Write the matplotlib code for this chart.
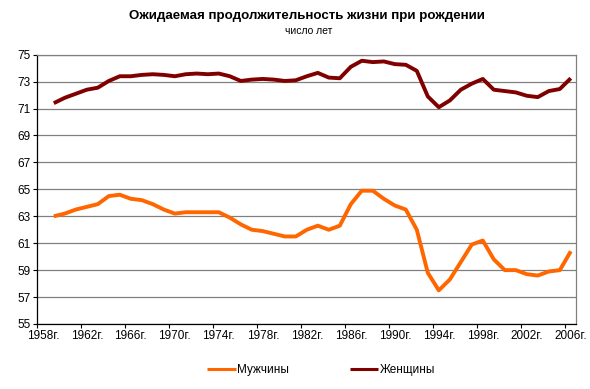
import numpy as np
import matplotlib
matplotlib.use("Agg")
import matplotlib.pyplot as plt

plt.rcParams['font.family'] = ['Liberation Sans', 'DejaVu Sans']

# годы и ожидаемая продолжительность жизни (чтение с графика)
years = list(range(1959, 2007))
muzhchiny = [63.0, 63.2, 63.5, 63.7, 63.9, 64.5, 64.6, 64.3, 64.2, 63.9,
             63.5, 63.2, 63.3, 63.3, 63.3, 63.3, 62.9, 62.4, 62.0, 61.9,
             61.7, 61.5, 61.5, 62.0, 62.3, 62.0, 62.3, 63.9, 64.9, 64.9,
             64.3, 63.8, 63.5, 62.0, 58.8, 57.5, 58.3, 59.6, 60.9, 61.2,
             59.8, 59.0, 59.0, 58.7, 58.6, 58.9, 59.0, 60.4]
zhenshchiny = [71.4, 71.8, 72.1, 72.4, 72.55, 73.05, 73.4, 73.4, 73.5, 73.55,
               73.5, 73.4, 73.55, 73.6, 73.55, 73.6, 73.4, 73.05, 73.15, 73.2,
               73.15, 73.05, 73.1, 73.4, 73.65, 73.3, 73.25, 74.1, 74.55, 74.45,
               74.5, 74.3, 74.25, 73.8, 71.9, 71.1, 71.6, 72.4, 72.85, 73.2,
               72.4, 72.3, 72.2, 71.95, 71.85, 72.3, 72.45, 73.25]
tick_years = list(range(1958, 2007, 4))
tick_labels = [f"{y}г." for y in tick_years]

fig = plt.figure(figsize=(5.9, 3.89), dpi=100)
ax = fig.add_axes([37.3 / 590, 1 - 324 / 389, (576.3 - 37.3) / 590, (324 - 54.7) / 389])

ax.plot(years, muzhchiny, color='#FF6600', lw=2.8, label='Мужчины', solid_capstyle='butt')
ax.plot(years, zhenshchiny, color='#800000', lw=2.8, label='Женщины', solid_capstyle='butt')

ax.set_xlim(1957.5, 2006.5)
ax.set_ylim(55, 75)
ax.set_yticks(np.arange(55, 76, 2))
ax.grid(axis='y', color='#808080', lw=0.9)
ax.set_axisbelow(True)

# деления между категориями, подписи по центру категорий
ax.set_xticks([y - 0.5 for y in tick_years])
ax.set_xticklabels([])
ax.set_xticks(tick_years, minor=True)
ax.set_xticklabels(tick_labels, minor=True)
ax.tick_params(axis='x', which='major', length=3, direction='out', color='black')
ax.tick_params(axis='x', which='minor', length=0, labelsize=8.5, pad=4)
ax.tick_params(axis='y', length=3, direction='out', labelsize=8.5, pad=2)

for s in ['top', 'right']:
    ax.spines[s].set_color('#808080')
    ax.spines[s].set_linewidth(0.9)
for s in ['left', 'bottom']:
    ax.spines[s].set_color('black')
    ax.spines[s].set_linewidth(0.9)

fig.text(307 / 590, 1 - 16 / 389, 'Ожидаемая продолжительность жизни при рождении',
         ha='center', va='center', fontsize=9.6, fontweight='bold')
fig.text(309 / 590, 1 - 31 / 389, 'число лет', ha='center', va='center', fontsize=7.5)

leg = fig.legend(loc='center', bbox_to_anchor=(321 / 590, 1 - 370 / 389), ncol=2, frameon=False,
                 fontsize=8.5, handlelength=2.4, handletextpad=0.1, columnspacing=5.2)
for line in leg.get_lines():
    line.set_linewidth(2.2)

fig.savefig('out.png', dpi=100)
